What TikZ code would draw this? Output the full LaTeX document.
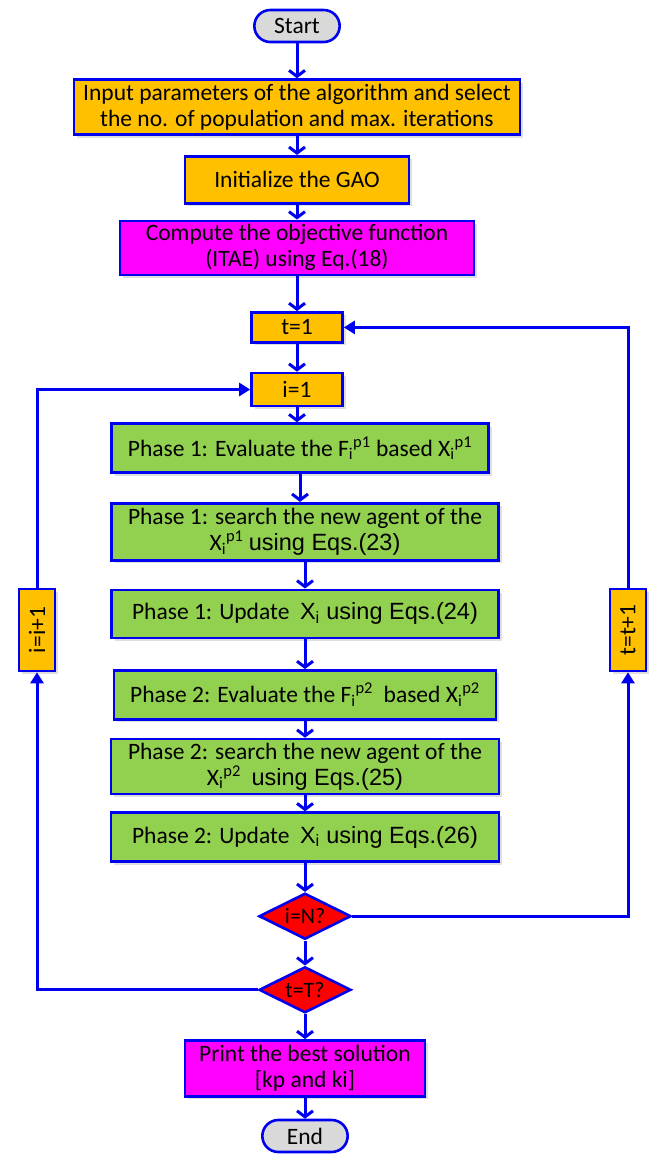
\documentclass[tikz,border=0pt]{standalone}
\usepackage{fontspec}
\setmainfont{Carlito}
\newfontfamily\arialfont{Liberation Sans}
\usepackage{graphicx}
\usepackage{xcolor}
\usetikzlibrary{shapes,arrows.meta,positioning,shadows}
\definecolor{lineblue}{HTML}{0000F0}
\definecolor{goldorange}{HTML}{FFC000}
\definecolor{brightmagenta}{HTML}{FF00FF}
\definecolor{leafgreen}{HTML}{92D050}
\definecolor{alertred}{HTML}{FF0000}
\definecolor{termgray}{HTML}{D9D9D9}
\newcommand{\agent}[2]{#1\textsubscript{i}\textsuperscript{p#2}}

\begin{document}
\begin{tikzpicture}[
            x=1pt, y=1pt,
            font=\fontsize{23.5}{26}\selectfont,
            box/.style={rectangle, draw=lineblue, line width=2.6pt, align=center, inner sep=2pt, drop shadow={shadow xshift=3pt, shadow yshift=-3pt, opacity=0.25}},
            orangebox/.style={box, fill=goldorange},
            magentabox/.style={box, fill=brightmagenta},
            greenbox/.style={box, fill=leafgreen},
            terminal/.style={rounded rectangle, draw=lineblue, line width=2.6pt, fill=termgray, minimum width=92pt, minimum height=32pt},
            decision/.style={diamond, aspect=2, draw=lineblue, line width=2.6pt, fill=alertred, minimum width=92pt, minimum height=46pt, inner sep=0pt, font=\fontsize{22}{24}\selectfont},
            arrow/.style={-{Straight Barb[length=6pt,width=16pt]}, draw=lineblue, line width=3pt},
            looparrow/.style={-{Triangle[length=11pt,width=13pt]}, draw=lineblue, line width=3pt}
        ]
        \useasboundingbox (0,0) rectangle (654,-1157);

        % Setup
        \node[terminal] (start) at (297,-26) {Start};
        \node[orangebox, below=35pt of start, minimum width=446pt, minimum height=55pt] (input) {Input parameters of the algorithm and select\\the no. of population and max. iterations};
        \node[orangebox, below=19pt of input, minimum width=224pt, minimum height=47pt] (init) {Initialize the GAO};
        \node[magentabox, below=15pt of init, minimum width=354pt, minimum height=54pt] (compute) {Compute the objective function\\(ITAE) using Eq.(18)};

        % Counters
        \node[orangebox, below=35pt of compute, minimum width=91pt, minimum height=30pt] (t1) {t=1};
        \node[orangebox, below=28pt of t1, minimum width=91pt, minimum height=33pt] (i1) {i=1};

        % Phase 1
        \node[greenbox, below=15pt of i1, xshift=3pt, minimum width=377pt, minimum height=49pt] (eval1) {Phase 1: Evaluate the \agent{F}{1} based \agent{X}{1}};
        \node[greenbox, below=28pt of eval1, xshift=5pt, minimum width=387pt, minimum height=57pt] (search1) {Phase 1: search the new agent of the\\\agent{X}{1} {\arialfont using Eqs.(23)}};
        \node[greenbox, below=27pt of search1, minimum width=387pt, minimum height=48pt] (update1) {Phase 1: Update\ \ {\arialfont X\textsubscript{i} using Eqs.(24)}};

        % Phase 2
        \node[greenbox, below=30pt of update1, minimum width=382pt, minimum height=49pt] (eval2) {Phase 2: Evaluate the \agent{F}{2}\ \ based \agent{X}{2}};
        \node[greenbox, below=17pt of eval2, minimum width=388pt, minimum height=55pt] (search2) {Phase 2: search the new agent of the\\\agent{X}{2}\ \ {\arialfont using Eqs.(25)}};
        \node[greenbox, below=16pt of search2, minimum width=388pt, minimum height=49pt] (update2) {Phase 2: Update\ \ {\arialfont X\textsubscript{i} using Eqs.(26)}};

        % Checks and end
        \node[decision, below=29pt of update2] (iN) {i=N?};
        \node[decision, below=25pt of iN] (tT) {t=T?};
        \node[magentabox, below=25pt of tT, minimum width=240pt, minimum height=56pt] (print) {Print the best solution\\{}[kp and ki]};
        \node[terminal, below=21pt of print] (stop) {End};

        % Increments
        \node[orangebox, minimum width=36pt, minimum height=82pt] (iplus) at (37,-630) {\rotatebox{90}{i=i+1}};
        \node[orangebox, minimum width=36pt, minimum height=82pt] (tplus) at (628,-630) {\rotatebox{90}{t=t+1}};

        % Arrows
        \foreach \a/\b in {start/input, input/init, init/compute, compute/t1, t1/i1, i1/eval1, eval1/search1, search1/update1, update1/eval2, eval2/search2, search2/update2, update2/iN, iN/tT, tT/print, print/stop}
            \draw[arrow] (\a.south) -- (\a.south |- \b.north);
        \draw[looparrow] (iN.east) -| (tplus.south);
        \draw[looparrow] (tplus.north) |- (t1.east);
        \draw[looparrow] (tT.west) -| (iplus.south);
        \draw[looparrow] (iplus.north) |- (i1.west);

        \end{tikzpicture}
\end{document}
